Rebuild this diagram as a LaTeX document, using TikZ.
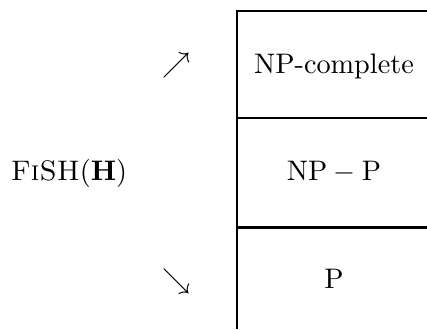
\documentclass[tikz,border=0pt]{standalone}
\usepackage{amsmath}
\usepackage{tikz}
\usetikzlibrary{positioning}

\tikzset{cls/.style={anchor=base,scale=1.13,transform shape}}

\begin{document}
\begin{tikzpicture}[x=1pt,y=1pt,line width=1.1pt]
\useasboundingbox (0,0) rectangle (170.8,131.6);
% the column of classes
\coordinate (top) at (94.8,127.2);
\coordinate (bot) at (94.8,0);
\coordinate (topr) at (170.8,127.2);
\coordinate (cut1) at (94.8,84.4);
\coordinate (cut1r) at (170.8,84.4);
\coordinate (cut2) at (94.8,40.6);
\coordinate (cut2r) at (170.8,40.6);
\draw (bot)--(top)--(topr);
\draw (cut1)--(cut1r);
\draw (cut2)--(cut2r);

\node (npc)[cls] at (133.6,102.4){NP-complete};
\node (npp)[cls] at (133.6,59.6){$\mathrm{NP}-\mathrm{P}$};
\node (p)[cls] at (133.6,16.4){P};

\node (fish)[cls] at (27.6,59.6){\textsc{FiSH}$(\mathbf{H})$};
\node (up)[scale=1.13,transform shape] at (70.8,105.6){$\nearrow$};
\node (down)[scale=1.13,transform shape] at (70.8,19.2){$\searrow$};
\end{tikzpicture}
\end{document}
